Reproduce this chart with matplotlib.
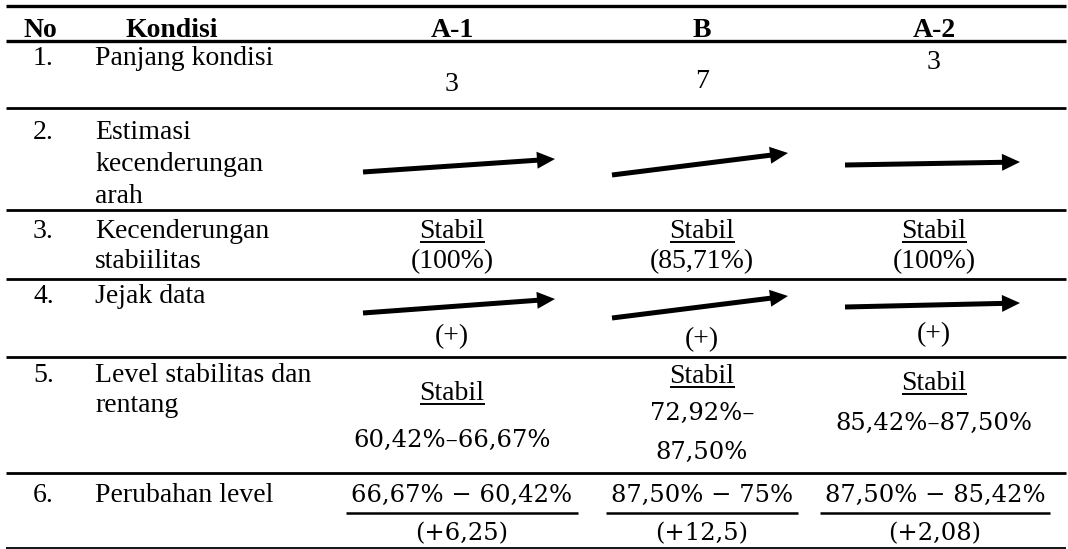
import matplotlib.pyplot as plt
from matplotlib.patches import FancyArrow

# table content
headers = ["No", "Kondisi", "A-1", "B", "A-2"]
row_no = ["1.", "2.", "3.", "4.", "5.", "6."]
kondisi = [["Panjang kondisi"],
           ["Estimasi", "kecenderungan", "arah"],
           ["Kecenderungan", "stabiilitas"],
           ["Jejak data"],
           ["Level stabilitas dan", "rentang"],
           ["Perubahan level"]]
panjang = ["3", "7", "3"]
stabilitas_pct = ["(100%)", "(85,71%)", "(100%)"]
jejak = ["(+)", "(+)", "(+)"]
level_rentang = [["60,42%\u201366,67%"], ["72,92%\u2013", "87,50%"], ["85,42%\u201387,50%"]]
perubahan_atas = ["66,67% \u2212 60,42%", "87,50% \u2212 75%", "87,50% \u2212 85,42%"]
perubahan = ["(+6,25)", "(+12,5)", "(+2,08)"]
# rise of the trend arrows (pixels) for row 2 and row 4
arah_rise = [13, 22, 3]
jejak_rise = [14, 22, 4]

W, H = 1068, 549
fig = plt.figure(figsize=(W / 100, H / 100), dpi=100)
ax = fig.add_axes([0, 0, 1, 1])
ax.set_xlim(0, W)
ax.set_ylim(H, 0)
ax.axis("off")

SERIF = "Liberation Serif"
MATH = "DejaVu Serif"
FS = 20
MFS = 17.5

col_x = [452, 702, 934]
frac_x = [462, 702, 935]
arrow_x = [(363, 555), (612, 788), (845, 1020)]

# horizontal rules
rules = [(6, 2.4), (41, 2.4), (108, 2.0), (210, 2.0), (279, 2.0), (357, 2.0), (473, 2.0), (548, 1.3)]
for y, lw in rules:
    ax.plot([6, 1066], [y, y], color="black", lw=lw, solid_capstyle="butt")


def txt(x, y, s, ha="left", family=SERIF, size=FS, weight="normal"):
    return ax.text(x, y, s, ha=ha, va="baseline", family=family, fontsize=size,
                   fontweight=weight, color="black")


def underline(t, y, pad=0, lw=1.4):
    r = fig.canvas.get_renderer()
    bb = t.get_window_extent(r)
    inv = ax.transData.inverted()
    x0 = inv.transform((bb.x0, bb.y0))[0]
    x1 = inv.transform((bb.x1, bb.y0))[0]
    ax.plot([x0 - pad, x1 + pad], [y, y], color="black", lw=lw, solid_capstyle="butt")


# header
hx = [40, 172] + col_x
for x, h in zip(hx, headers):
    txt(x, 37, h, ha="center", weight="bold")

# first column + kondisi
row_base = [65, 139, 238, 303, 382, 502]
for i in range(6):
    txt(33, row_base[i], row_no[i])
    for k, line in enumerate(kondisi[i]):
        txt(95, row_base[i] + (32 if i == 1 else 30) * k, line)

# row 1
for x, v, yb in zip(col_x, panjang, [91, 88, 69]):
    txt(x, yb, v, ha="center")

# row 2 and row 4 arrows
for (x0, x1), r, y_start in zip(arrow_x, arah_rise, [172, 175, 165]):
    ax.add_patch(FancyArrow(x0, y_start, x1 - x0, -r, width=5, head_width=17,
                            head_length=18, length_includes_head=True,
                            color="black", lw=0))
for (x0, x1), r, y_start in zip(arrow_x, jejak_rise, [313, 318, 307]):
    ax.add_patch(FancyArrow(x0, y_start, x1 - x0, -r, width=5, head_width=17,
                            head_length=18, length_includes_head=True,
                            color="black", lw=0))

# row 3
for x, p in zip(col_x, stabilitas_pct):
    t = txt(x, 238, "Stabil", ha="center")
    underline(t, 242)
    txt(x, 268, p, ha="center")

# row 4 signs
for x, s, yb in zip(col_x, jejak, [343, 346, 341]):
    txt(x, yb, s, ha="center")

# row 5
stabil5 = [400, 383, 390]
range_y = [447, 420, 430]
for x, ys, yr, lines in zip(col_x, stabil5, range_y, level_rentang):
    t = txt(x, ys, "Stabil", ha="center")
    underline(t, ys + 4)
    for k, line in enumerate(lines):
        txt(x, yr + 39 * k, line, ha="center", family=MATH, size=MFS)

# row 6 fractions
for x, top, bot in zip(frac_x, perubahan_atas, perubahan):
    t = txt(x, 502, top, ha="center", family=MATH, size=MFS)
    underline(t, 513, pad=5, lw=1.8)
    txt(x, 540, bot, ha="center", family=MATH, size=MFS)

fig.savefig("out.png", dpi=100)
